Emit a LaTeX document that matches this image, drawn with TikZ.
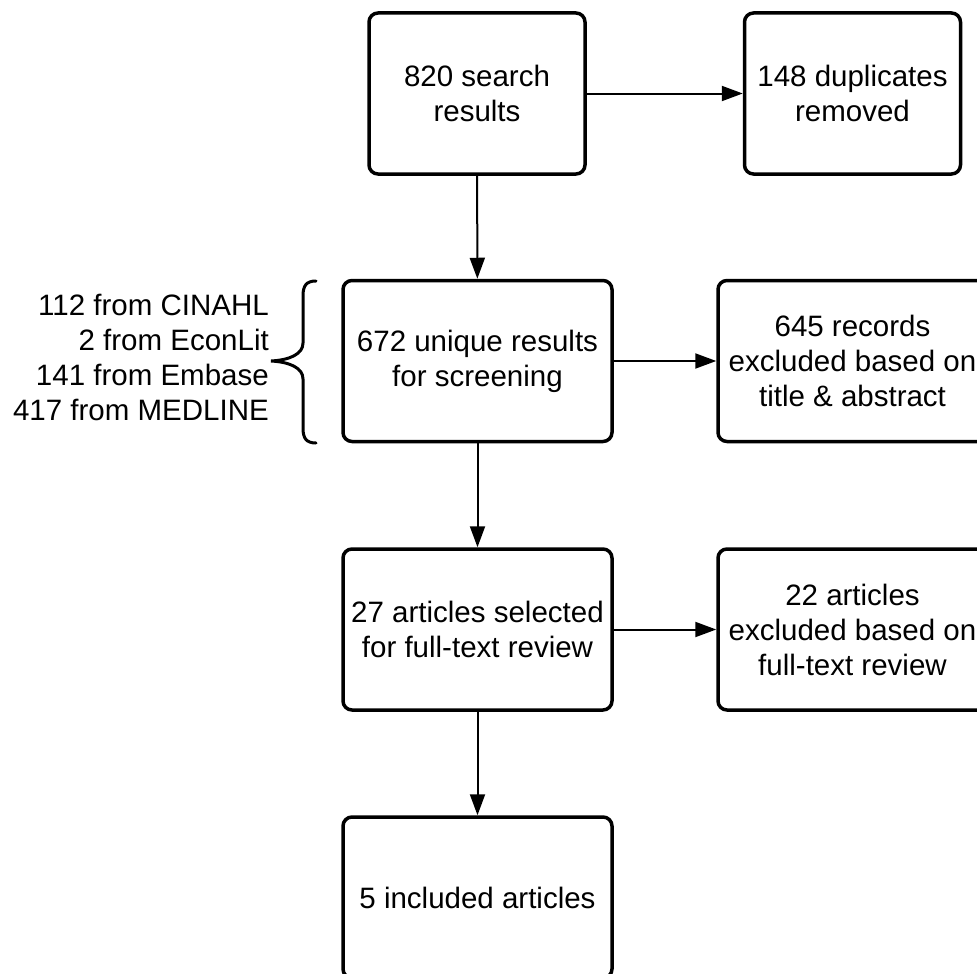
\documentclass[tikz,border=0pt]{standalone}
\usepackage{fontspec}
\setmainfont{Liberation Sans}
\usetikzlibrary{arrows.meta}

\begin{document}
\begin{tikzpicture}[x=1pt,y=-1pt,
    txt/.style={font=\fontsize{29.5}{35}\selectfont},
    box/.style={draw,line width=3.5pt,rounded corners=9pt,minimum height=161pt,
      align=center,inner sep=0pt,txt},
    narrowbox/.style={box,minimum width=216pt},
    widebox/.style={box,minimum width=269pt},
    >={Triangle[length=21pt,width=15pt]}]
  \useasboundingbox (0,0) rectangle (977,974);
  \clip (0,0) rectangle (977,974);
  \node[narrowbox] (b1) at (477,93.5) {820 search\\results};
  \node[narrowbox] (b2) at (852.5,93.5) {148 duplicates\\removed};
  \node[widebox] (b3) at (477.5,361) {672 unique results\\for screening};
  \node[widebox] (b4) at (852.5,361) {645 records\\excluded based on\\title \& abstract};
  \node[widebox] (b5) at (477.5,629.5) {27 articles selected\\for full-text review};
  \node[widebox] (b6) at (852.5,629.5) {22 articles\\excluded based on\\full-text review};
  \node[widebox] (b7) at (477.5,897.5) {5 included articles};
  \foreach \i/\j in {1/2, 1/3, 3/4, 3/5, 5/6, 5/7} {
    \path[line width=2pt] (b\i) edge[->] (b\j);
  };
  % sources
  \node[txt,anchor=east,align=right,inner sep=0pt] (src) at (269,357.5)
    {112 from CINAHL\\2 from EconLit\\141 from Embase\\417 from MEDLINE};
  \draw[line width=3pt,line cap=round] (316,281) .. controls (306,281) and (303,286) .. (303,296)
    -- (303,343) .. controls (303,354) and (290,360) .. (271,361)
    .. controls (290,362) and (303,368) .. (303,379)
    -- (303,428) .. controls (303,438) and (306,443) .. (316,443);
\end{tikzpicture}
\end{document}
